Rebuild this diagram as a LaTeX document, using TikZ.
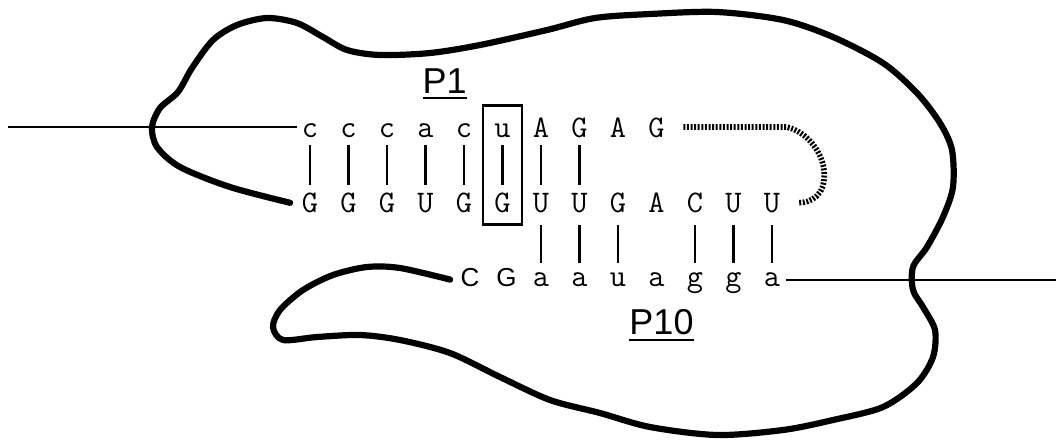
\documentclass[tikz,border=0pt]{standalone}
\usepackage{fontspec}
\usepackage{tikz}
\usetikzlibrary{positioning,fit,calc}
\newfontfamily\sansfam{Liberation Sans}
\newcommand{\seqfont}{\ttfamily\fontsize{15.7}{18}\selectfont}
\newcommand{\seqsans}{\sansfam\fontsize{13}{15}\selectfont}
\newcommand{\stemname}[1]{\setbox0=\hbox{#1}\leavevmode\rlap{\rule[-3.2pt]{\wd0}{1pt}}\box0}
\tikzset{
  nt/.style={font=\seqfont,inner sep=0pt,anchor=base,minimum width=9.42pt,text height=10pt,text depth=0pt},
  lowt/.style={nt,text height=7pt},
  lowsans/.style={lowt,font=\seqsans},
  stem/.style={font=\sansfam\fontsize{18}{21}\selectfont,inner sep=0pt,anchor=base},
  upbar/.style={line width=1.2pt,shorten <=4pt,shorten >=3.5pt},
  lowbar/.style={line width=1.2pt,shorten <=6pt,shorten >=4.5pt},
  pairbox/.style={draw,line width=1.3pt,inner xsep=4.8pt,inner ysep=5.5pt},
  strand/.style={line width=1pt},
  ribozyme/.style={line width=3.1pt,line cap=round,line join=round},
  hatchline/.style={line width=2.8pt,dash pattern=on 1pt off 0.8pt},
}
\begin{document}
\begin{tikzpicture}[x=0.5pt,y=-0.5pt,node distance=27.5pt and 9.43pt]
\useasboundingbox (0,0) rectangle (1056,441);

% 5' strand of P1
\node[nt] (t0) at (310,137) {c};
\node[nt,right=of t0] (t1) {c};
\node[nt,right=of t1] (t2) {c};
\node[nt,right=of t2] (t3) {a};
\node[nt,right=of t3] (t4) {c};
\node[nt,right=of t4] (t5) {u};
\node[nt,right=of t5] (t6) {A};
\node[nt,right=of t6] (t7) {G};
\node[nt,right=of t7] (t8) {A};
\node[nt,right=of t8] (t9) {G};

% intron strand
\node[nt,below=of t0] (m0) {G};
\node[nt,right=of m0] (m1) {G};
\node[nt,right=of m1] (m2) {G};
\node[nt,right=of m2] (m3) {U};
\node[nt,right=of m3] (m4) {G};
\node[nt,right=of m4] (m5) {G};
\node[nt,right=of m5] (m6) {U};
\node[nt,right=of m6] (m7) {U};
\node[nt,right=of m7] (m8) {G};
\node[nt,right=of m8] (m9) {A};
\node[nt,right=of m9] (m10) {C};
\node[nt,right=of m10] (m11) {U};
\node[nt,right=of m11] (m12) {U};

% 3' strand of P10
\node[lowt,below=29.5pt of m6] (b6) {a};
\node[lowt,right=of b6] (b7) {a};
\node[lowt,right=of b7] (b8) {u};
\node[lowt,right=of b8] (b9) {a};
\node[lowt,right=of b9] (b10) {g};
\node[lowt,right=of b10] (b11) {g};
\node[lowt,right=of b11] (b12) {a};
\node[lowsans] (b4) at ($(m4 |- b6.base)+(6,0)$) {C};
\node[lowsans] (b5) at ($(m5 |- b6.base)+(4,0)$) {G};

\node[pairbox,fit=(t5)(m5)] (wobble) {};
\node[stem] (p1) at ($(t3.base)!0.5!(t4.base)+(0,-44)$) {\stemname{P1}};
\node[stem] (p10) at ($(b9.base)+(5,48)$) {\stemname{P10}};

\draw[upbar] (t0) -- (m0);
\draw[upbar] (t1) -- (m1);
\draw[upbar] (t2) -- (m2);
\draw[upbar] (t3) -- (m3);
\draw[upbar] (t4) -- (m4);
\draw[upbar] (t5) -- (m5);
\draw[upbar] (t6) -- (m6);
\draw[upbar] (t7) -- (m7);
\draw[lowbar] (m6) -- (b6);
\draw[lowbar] (m7) -- (b7);
\draw[lowbar] (m8) -- (b8);
\draw[lowbar] (m10) -- (b10);
\draw[lowbar] (m11) -- (b11);
\draw[lowbar] (m12) -- (b12);

\coordinate (lend) at (8,127);
\coordinate (rend) at (1056,275);
\draw[strand,shorten >=1.5pt] (lend) -- (t0.west);
\draw[strand,shorten <=2pt] (b12.east) -- (b12.east -| rend);

\draw[hatchline] ([xshift=8.5pt]t9.east) -- ++(103,0)
  .. controls +(20,4) and +(0,-22) .. ++(38,48)
  .. controls +(0,20) and +(14,0) .. ([xshift=8pt]m12.east);

\draw[ribozyme] plot[smooth,tension=0.5] coordinates {
  ([xshift=-5pt]b4.west) (400,268) (367,267) (333,275) (303,290) (280,310)
  (273,327) (283,340) (317,337) (360,335) (400,340) (450,353) (500,377)
  (550,400) (600,413) (650,427) (717,435) (783,430) (833,420) (883,407)
  (917,383) (933,357) (935,330) (923,307) (913,290) (913,267) (927,247)
  (943,217) (953,187) (952,150) (940,123) (917,93) (883,63) (833,37)
  (783,20) (717,12) (650,14) (595,18) (547,30) (480,45) (430,53) (380,55)
  (347,50) (323,37) (297,23) (267,18) (237,25) (213,40) (192,68) (178,92)
  (160,108) (152,127) (157,147) (180,167) (230,187) ([xshift=-5pt]m0.west)
};
\end{tikzpicture}
\end{document}
